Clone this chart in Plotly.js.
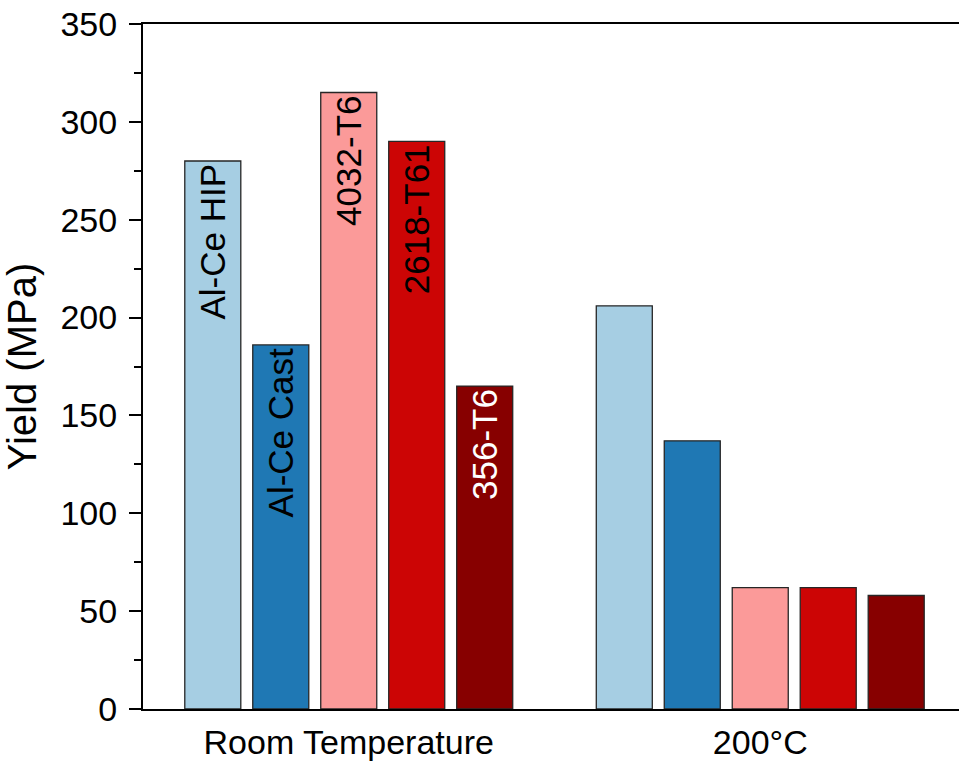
<!DOCTYPE html>
<html>
<head>
<meta charset="utf-8">
<script src="https://cdn.plot.ly/plotly-3.0.1.min.js"></script>
<style>html,body{margin:0;padding:0;background:#fff;overflow:hidden;}</style>
</head>
<body>
<div id="chart" style="width:959px;height:761px;"></div>
<script>
const groups = ['Room Temperature', '200°C'];
const alloys = ['Al-Ce HIP', 'Al-Ce Cast', '4032-T6', '2618-T61', '356-T6'];
const alHIP = [280, 206];
const alCast = [186, 137];
const a4032 = [315, 62];
const a2618 = [290, 62];
const a356 = [165, 58];
const series = [alHIP, alCast, a4032, a2618, a356];
const colors = ['#A6CEE3', '#1F78B4', '#FB9A99', '#CC0505', '#870000'];
const textColors = ['#000000', '#000000', '#000000', '#000000', '#FFFFFF'];

const FONT = 'Arial, "Liberation Sans", sans-serif';

const traces = series.map((vals, i) => ({
  type: 'bar',
  name: alloys[i],
  x: groups,
  y: vals,
  text: [alloys[i], ''],
  textposition: 'inside',
  insidetextanchor: 'end',
  textangle: -90,
  insidetextfont: {family: FONT, size: 35, color: textColors[i]},
  marker: {color: colors[i], line: {color: '#262626', width: 1.3}},
  hoverinfo: 'none',
  cliponaxis: false
}));

const layout = {
  width: 959,
  height: 761,
  margin: {l: 143, r: 0, t: 24, b: 52},
  paper_bgcolor: '#ffffff',
  plot_bgcolor: '#ffffff',
  showlegend: false,
  barmode: 'group',
  bargap: 0.174,
  bargroupgap: 0.176,
  font: {family: FONT, color: '#000000'},
  xaxis: {
    type: 'category',
    range: [-0.5, 1.483],
    showline: true,
    linecolor: '#000000',
    linewidth: 2,
    mirror: true,
    ticks: '',
    showgrid: false,
    zeroline: false,
    tickfont: {family: FONT, size: 34, color: '#000000'},
    ticklabelstandoff: 2
  },
  yaxis: {
    range: [0, 350],
    dtick: 50,
    tick0: 0,
    ticks: 'outside',
    ticklen: 12,
    tickwidth: 2,
    tickcolor: '#000000',
    minor: {dtick: 25, ticks: 'outside', ticklen: 7, tickwidth: 2, tickcolor: '#000000', showgrid: false},
    showline: true,
    linecolor: '#000000',
    linewidth: 2,
    showgrid: false,
    zeroline: false,
    tickfont: {family: FONT, size: 34, color: '#000000'},
    ticklabelstandoff: 5,
    title: {text: 'Yield (MPa)', font: {family: FONT, size: 40, color: '#000000'}, standoff: 12}
  }
};

Plotly.newPlot('chart', traces, layout, {displayModeBar: false, staticPlot: true});
</script>
</body>
</html>
